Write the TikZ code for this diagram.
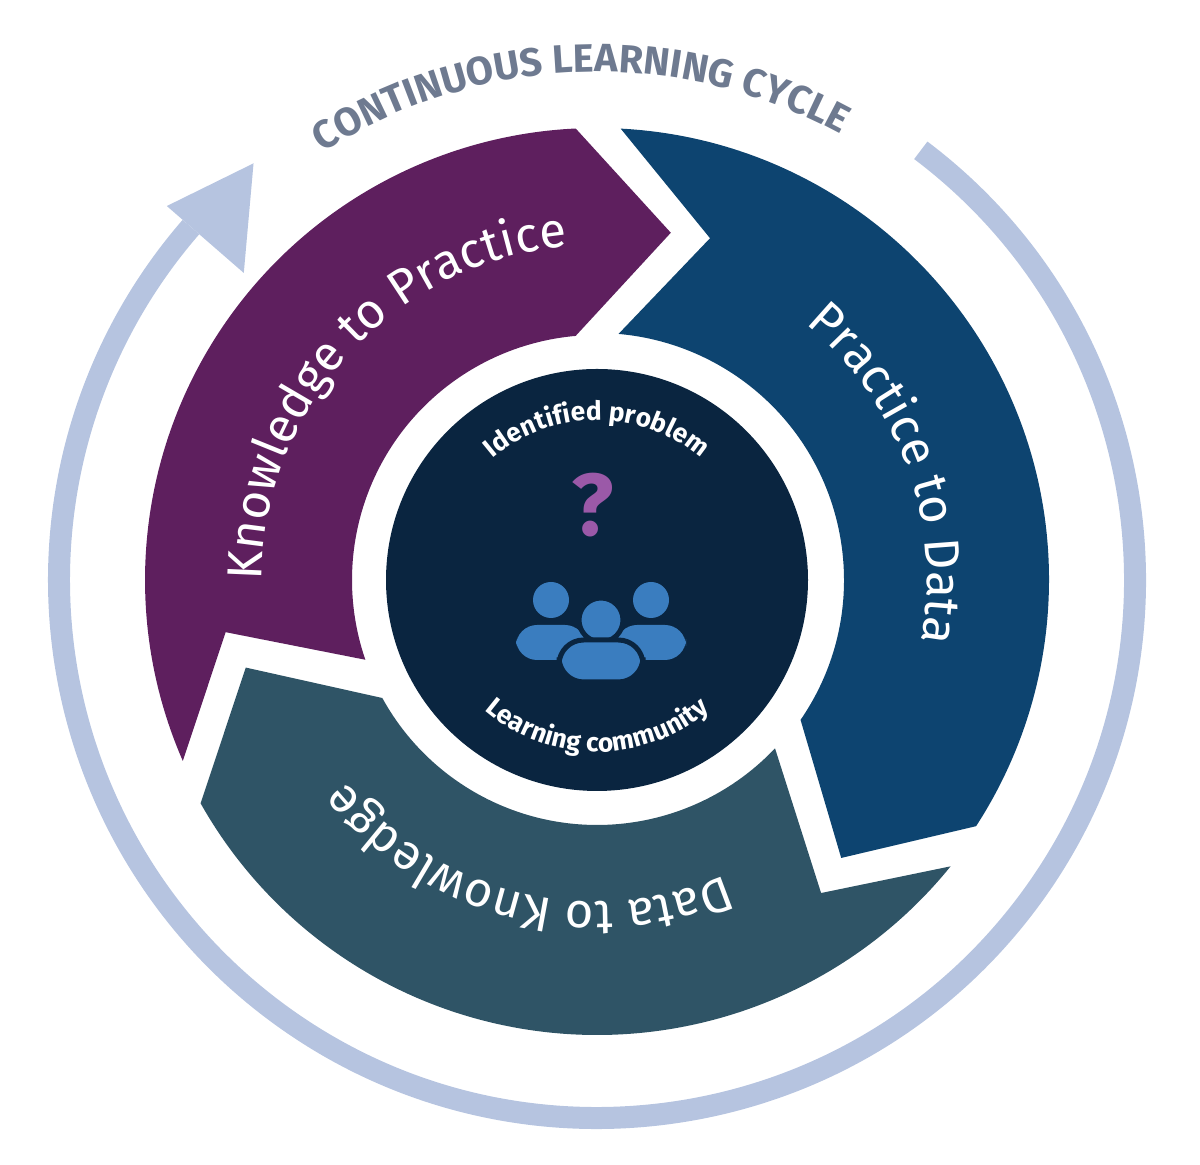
\documentclass[tikz,border=0pt]{standalone}
\usepackage{fontspec}
\setmainfont{Fira Sans}
\usetikzlibrary{decorations.text}
\definecolor{pur}{HTML}{5E1F5E}
\definecolor{blu}{HTML}{0D4470}
\definecolor{tea}{HTML}{2F5466}
\definecolor{nav}{HTML}{0A2540}
\definecolor{ring}{HTML}{B6C4E0}
\definecolor{ttl}{HTML}{6E7A90}
\definecolor{qm}{HTML}{9B59A8}
\definecolor{ppl}{HTML}{3A7DBF}
\begin{document}
\begin{tikzpicture}[x=0.02cm,y=0.02cm,
  bandtxt/.style={decoration={text along path,text align=center,
     text={|\fontsize{28}{28}\selectfont\color{white}|#1}},decorate}]
\useasboundingbox (0,0) rectangle (1200,1165);
\begin{scope}[shift={(597,585)}]
\coordinate (c) at (0,0);
% outer ring arrow
\draw[ring,line width=22*0.02cm] (53:538) arc[start angle=53,end angle=-221,radius=538];
\fill[ring] (139:468) -- (139:570) -- (129.5:540) -- cycle;
% title
\path[decoration={text along path,text align=center,
  text={|\fontsize{22.5}{22.5}\selectfont\bfseries\color{ttl}|CONTINUOUS LEARNING CYCLE}},decorate]
  (132:508) arc[start angle=132,end angle=52,radius=508];
% segments
\fill[pur] (203.6:452) arc[start angle=203.6,end angle=92.7,radius=452] -- (78:355) -- (95:245)
  arc[start angle=95,end angle=199,radius=245] -- (188:375) -- cycle;
\fill[blu] (87:452) arc[start angle=87,end angle=-33,radius=452] -- (-48.7:370) -- (-34.5:247)
  arc[start angle=-34.5,end angle=85,radius=247] -- (71.7:360) -- cycle;
\fill[tea] (-39:455) arc[start angle=-39,end angle=-150.6,radius=455] -- (-166:362) -- (-151.2:245)
  arc[start angle=-151.2,end angle=-43.4,radius=245] -- (-54.4:385) -- cycle;
% band texts
\path[bandtxt={Knowledge to Practice}] (195:335) arc[start angle=195,end angle=80,radius=335];
\path[bandtxt={Practice to Data}] (75:330) arc[start angle=75,end angle=-35,radius=330];
\path[bandtxt={Data to Knowledge}] (-49:322) arc[start angle=-49,end angle=-159,radius=322];
% centre
\fill[nav] (0,0) circle[radius=211];
\path[decoration={text along path,text align=center,
  text={|\fontsize{15}{15}\selectfont\bfseries\color{white}|Identified problem}},decorate]
  (140:160) arc[start angle=140,end angle=40,radius=160];
\path[decoration={text along path,text align=center,
  text={|\fontsize{15}{15}\selectfont\bfseries\color{white}|Learning community}},decorate]
  (-150:172) arc[start angle=-150,end angle=-30,radius=172];
\node[text=qm,font=\fontsize{50}{50}\selectfont\bfseries] (q) at (-4,75) {?};
% people
\fill[ppl] (-46,-20) circle[radius=18];
\fill[ppl] (54,-20) circle[radius=18];
\fill[ppl,rounded corners=12] (-81,-80) rectangle (-11,-45);
\fill[ppl,rounded corners=12] (19,-80) rectangle (89,-45);
\fill[ppl,draw=nav,line width=0.1cm] (4,-40) circle[radius=22];
\fill[ppl,draw=nav,line width=0.1cm,rounded corners=14] (-38,-102) rectangle (46,-60);
\end{scope}
\end{tikzpicture}
\end{document}
